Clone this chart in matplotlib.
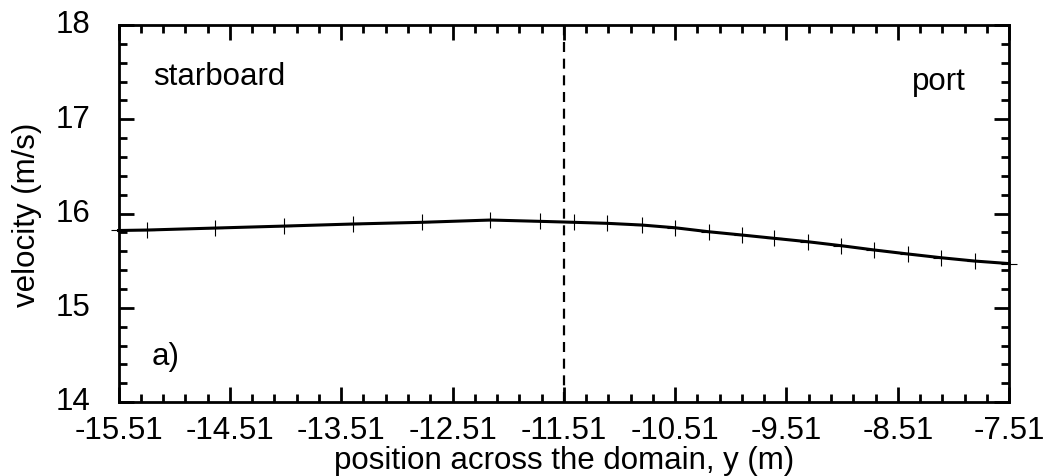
import matplotlib
matplotlib.use('Agg')
import matplotlib.pyplot as plt
from matplotlib.ticker import MultipleLocator, FixedLocator
from matplotlib.transforms import ScaledTranslation

plt.rcParams['font.family'] = ['Liberation Sans', 'DejaVu Sans']

# data
pos = [-15.51, -15.25, -14.64, -14.02, -13.40, -12.78, -12.17, -11.72, -11.42,
       -11.12, -10.81, -10.51, -10.21, -9.91, -9.62, -9.32, -9.02, -8.72,
       -8.42, -8.12, -7.82, -7.51]
vel = [15.820, 15.825, 15.846, 15.867, 15.889, 15.907, 15.931, 15.917, 15.907,
       15.896, 15.878, 15.849, 15.807, 15.772, 15.737, 15.701, 15.659, 15.613,
       15.571, 15.531, 15.496, 15.469]
xticks = [-15.51, -14.51, -13.51, -12.51, -11.51, -10.51, -9.51, -8.51, -7.51]
yticks = [14, 15, 16, 17, 18]
x_split = -11.51

fs = 22.5

fig = plt.figure(figsize=(10.49, 4.77), dpi=100)
ax = fig.add_axes([0.113, 0.155, 0.849, 0.7905])

ax.plot(pos, vel, color='black', lw=2.2, marker='+', ms=11, mew=0.8, clip_on=False)
ax.axvline(x_split, color='black', lw=1.6, dashes=(4.5, 3))

ax.set_xlim(-15.51, -7.51)
ax.set_ylim(14, 18)
ax.xaxis.set_major_locator(FixedLocator(xticks))
ax.xaxis.set_minor_locator(FixedLocator([xticks[0] + 0.2 * i for i in range(41)]))
ax.yaxis.set_major_locator(FixedLocator(yticks))
ax.yaxis.set_minor_locator(MultipleLocator(0.2))
ax.set_xticklabels(['%.2f' % v for v in xticks])

for s in ax.spines.values():
    s.set_linewidth(2)
ax.tick_params(which='both', direction='in', top=True, right=True, width=2)
ax.tick_params(which='major', length=11, labelsize=fs)
ax.tick_params(axis='x', which='major', pad=9)
ax.tick_params(axis='y', which='major', pad=20)
ax.tick_params(which='minor', length=5.5)

# nudge the y labels up a little so "14" clears "-15.51"
shift = ScaledTranslation(0, 3 / 72, fig.dpi_scale_trans)
for lbl in ax.get_yticklabels():
    lbl.set_transform(lbl.get_transform() + shift)

ax.set_xlabel('position across the domain, y (m)', fontsize=fs, labelpad=0)
ax.set_ylabel('velocity (m/s)', fontsize=fs, labelpad=10)

ax.text(-15.20, 17.37, 'starboard', fontsize=fs, va='baseline', ha='left')
ax.text(-7.90, 17.32, 'port', fontsize=fs, va='baseline', ha='right')
ax.text(-15.21, 14.40, 'a)', fontsize=fs, va='baseline', ha='left')

fig.savefig('out.png', dpi=100)
